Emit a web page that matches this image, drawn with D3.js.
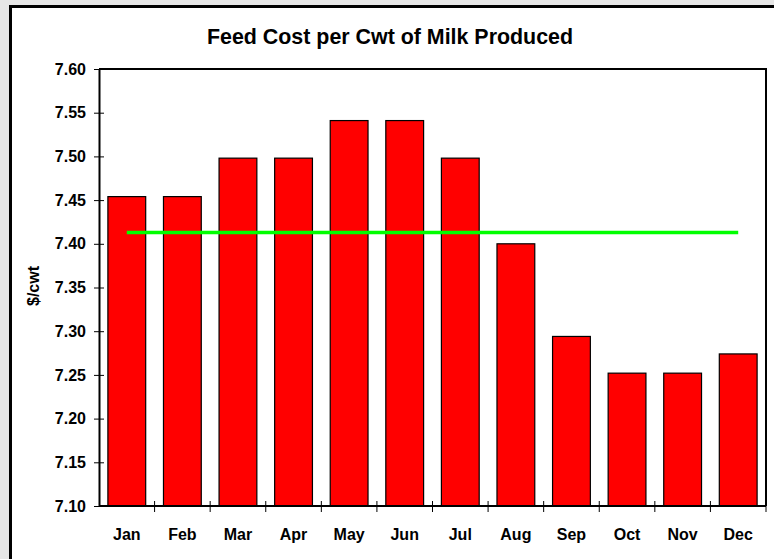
<!DOCTYPE html>
<html>
<head>
<meta charset="utf-8">
<script src="https://cdn.jsdelivr.net/npm/d3@7"></script>
<style>
  html, body { margin: 0; padding: 0; background: #e6e6e6; }
  svg { display: block; }
  text { font-family: "Liberation Sans", Arial, sans-serif; font-weight: bold; fill: #000; }
</style>
</head>
<body>
<svg id="chart" width="774" height="559"></svg>
<script>
// Monthly feed cost per hundredweight of milk
const months = ["Jan", "Feb", "Mar", "Apr", "May", "Jun", "Jul", "Aug", "Sep", "Oct", "Nov", "Dec"];
const costs = [7.454, 7.454, 7.498, 7.498, 7.541, 7.541, 7.498, 7.400, 7.294, 7.252, 7.252, 7.274];
const yTicks = [7.10, 7.15, 7.20, 7.25, 7.30, 7.35, 7.40, 7.45, 7.50, 7.55, 7.60];
const yDomain = [7.10, 7.60];

const svg = d3.select("#chart");
const W = 774, H = 559;
const plot = { left: 99, top: 69, right: 766, bottom: 506 };

// Outer frame
svg.append("rect")
  .attr("x", 10.5).attr("y", 6.5)
  .attr("width", W + 10).attr("height", H + 10)
  .attr("fill", "#fff").attr("stroke", "#000").attr("stroke-width", 3);

const x = d3.scaleBand().domain(months).range([plot.left, plot.right]).paddingInner(0.32).paddingOuter(0.16);
const xTickScale = d3.scaleBand().domain(months).range([plot.left, plot.right]);
const y = d3.scaleLinear().domain(yDomain).range([plot.bottom, plot.top]);

// Title
svg.append("text")
  .attr("x", 390).attr("y", 44)
  .attr("text-anchor", "middle")
  .style("font-size", "21.4px")
  .text("Feed Cost per Cwt of Milk Produced");

// Y-axis title
svg.append("text")
  .attr("transform", "translate(39,286) rotate(-90)")
  .attr("text-anchor", "middle")
  .style("font-size", "16px")
  .text("$/cwt");

// Bars
svg.append("g").selectAll("rect")
  .data(months)
  .join("rect")
  .attr("x", d => x(d))
  .attr("y", (d, i) => y(costs[i]))
  .attr("width", x.bandwidth())
  .attr("height", (d, i) => y(yDomain[0]) - y(costs[i]))
  .attr("fill", "#ff0000")
  .attr("stroke", "#000")
  .attr("stroke-width", 1.2);

// Average line from first to last month
const avg = d3.mean(costs);
svg.append("line")
  .attr("x1", x(months[0]) + x.bandwidth() / 2)
  .attr("x2", x(months[months.length - 1]) + x.bandwidth() / 2)
  .attr("y1", y(avg)).attr("y2", y(avg))
  .attr("stroke", "#00ff00").attr("stroke-width", 3.5);

// Plot border (top and right)
svg.append("path")
  .attr("d", `M${plot.left},${plot.top}H${plot.right}V${plot.bottom}`)
  .attr("fill", "none").attr("stroke", "#000").attr("stroke-width", 2);

// Y axis
const yAxis = d3.axisLeft(y).tickValues(yTicks).tickFormat(d3.format(".2f")).tickSizeInner(5).tickSizeOuter(0).tickPadding(8);
const gy = svg.append("g").attr("transform", `translate(${plot.left},0)`).call(yAxis);
gy.select(".domain").attr("stroke", "#000").attr("stroke-width", 2);
gy.selectAll(".tick line").attr("x2", 5).attr("x1", -5).attr("stroke", "#000");
gy.selectAll(".tick text").attr("x", -13).style("font-size", "16px").style("font-family", "'Liberation Sans', Arial, sans-serif").style("font-weight", "bold");

// X axis with ticks at category boundaries
const gx = svg.append("g").attr("transform", `translate(0,${plot.bottom})`);
gx.append("line").attr("x1", plot.left).attr("x2", plot.right).attr("stroke", "#000").attr("stroke-width", 2);
gx.selectAll("line.tk")
  .data(months.slice(1).concat(["_end"]))
  .join("line")
  .attr("class", "tk")
  .attr("x1", (d, i) => xTickScale(months[i]) + xTickScale.bandwidth())
  .attr("x2", (d, i) => xTickScale(months[i]) + xTickScale.bandwidth())
  .attr("y1", -5).attr("y2", 6)
  .attr("stroke", "#000");
gx.selectAll("text")
  .data(months)
  .join("text")
  .attr("x", d => xTickScale(d) + xTickScale.bandwidth() / 2)
  .attr("y", 34)
  .attr("text-anchor", "middle")
  .style("font-size", "16px")
  .text(d => d);
</script>
</body>
</html>
